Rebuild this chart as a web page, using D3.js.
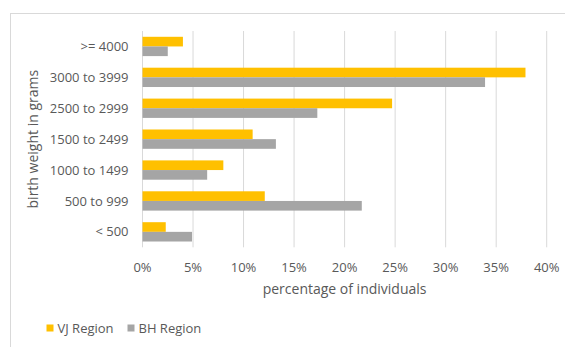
<!DOCTYPE html>
<html>
<head>
<meta charset="utf-8">
<script src="https://cdn.jsdelivr.net/npm/d3@7"></script>
<style>
  body { margin: 0; background: #fff; }
  text { font-family: "Open Sans", sans-serif; fill: #595959; }
</style>
</head>
<body>
<script>
// categories top to bottom
var categories = [">= 4000", "3000 to 3999", "2500 to 2999", "1500 to 2499", "1000 to 1499", "500 to 999", "< 500"]
var seriesNames = ["VJ Region", "BH Region"]
var vjValues = [4.0, 37.9, 24.7, 10.9, 8.0, 12.1, 2.3]
var bhValues = [2.5, 33.9, 17.3, 13.2, 6.4, 21.7, 4.9]
var xTicks = [0, 5, 10, 15, 20, 25, 30, 35, 40]

var colors = ["#FFC000", "#A5A5A5"]

var width = 565, height = 347
var margin = { left: 142.5, right: 18.3, top: 31, bottom: 99.7 }

var svg = d3.select("body").append("svg")
  .attr("width", width)
  .attr("height", height)

// chart frame (cut off at right and bottom)
svg.append("rect")
  .attr("x", 10.5).attr("y", 13.5)
  .attr("width", 700).attr("height", 500)
  .attr("fill", "none")
  .attr("stroke", "#D9D9D9")

var x = d3.scaleLinear()
  .domain([0, 40])
  .range([margin.left, width - margin.right])

var y = d3.scaleBand()
  .domain(categories)
  .range([margin.top, height - margin.bottom])

var inner = d3.scaleBand()
  .domain(seriesNames)
  .range([0, y.bandwidth()])
  .paddingInner(0)
  .paddingOuter(0.6)

// gridlines
svg.append("g")
  .selectAll("line")
  .data(xTicks)
  .enter().append("line")
  .attr("x1", d => x(d)).attr("x2", d => x(d))
  .attr("y1", margin.top).attr("y2", height - margin.bottom)
  .attr("stroke", "#D9D9D9")
  .attr("stroke-width", 1)

var rows = categories.map(function (c, i) {
  return { cat: c, vals: [vjValues[i], bhValues[i]] }
})

var groups = svg.append("g")
  .selectAll("g")
  .data(rows)
  .enter().append("g")
  .attr("transform", d => "translate(0," + y(d.cat) + ")")

groups.selectAll("rect")
  .data(d => d.vals.map((v, j) => ({ name: seriesNames[j], v: v, j: j })))
  .enter().append("rect")
  .attr("x", x(0))
  .attr("y", d => inner(d.name))
  .attr("width", d => x(d.v) - x(0))
  .attr("height", inner.bandwidth())
  .attr("fill", d => colors[d.j])

// category labels
svg.append("g")
  .selectAll("text")
  .data(categories)
  .enter().append("text")
  .attr("x", 128.5)
  .attr("y", d => y(d) + y.bandwidth() / 2)
  .attr("dy", "0.35em")
  .attr("text-anchor", "end")
  .attr("font-size", "13px")
  .text(d => d)

// x tick labels
svg.append("g")
  .selectAll("text")
  .data(xTicks)
  .enter().append("text")
  .attr("x", d => x(d))
  .attr("y", 267)
  .attr("dy", "0.35em")
  .attr("text-anchor", "middle")
  .attr("font-size", "13px")
  .text(d => d + "%")

// axis titles
svg.append("text")
  .attr("x", (x(0) + x(40)) / 2)
  .attr("y", 289.5)
  .attr("dy", "0.35em")
  .attr("text-anchor", "middle")
  .attr("font-size", "14px")
  .text("percentage of individuals")

svg.append("text")
  .attr("transform", "translate(33," + (margin.top + (height - margin.bottom)) / 2 + ") rotate(-90)")
  .attr("dy", "0.35em")
  .attr("text-anchor", "middle")
  .attr("font-size", "14px")
  .text("birth weight in grams")

// legend
var legendX = [46.5, 127.5]
var legend = svg.append("g")
  .selectAll("g")
  .data(seriesNames)
  .enter().append("g")
  .attr("transform", (d, i) => "translate(" + legendX[i] + ",328)")

legend.append("rect")
  .attr("x", 0).attr("y", -3.5)
  .attr("width", 7).attr("height", 7)
  .attr("fill", (d, i) => colors[i])

legend.append("text")
  .attr("x", 11)
  .attr("dy", "0.35em")
  .attr("font-size", "13px")
  .text(d => d)
</script>
</body>
</html>
